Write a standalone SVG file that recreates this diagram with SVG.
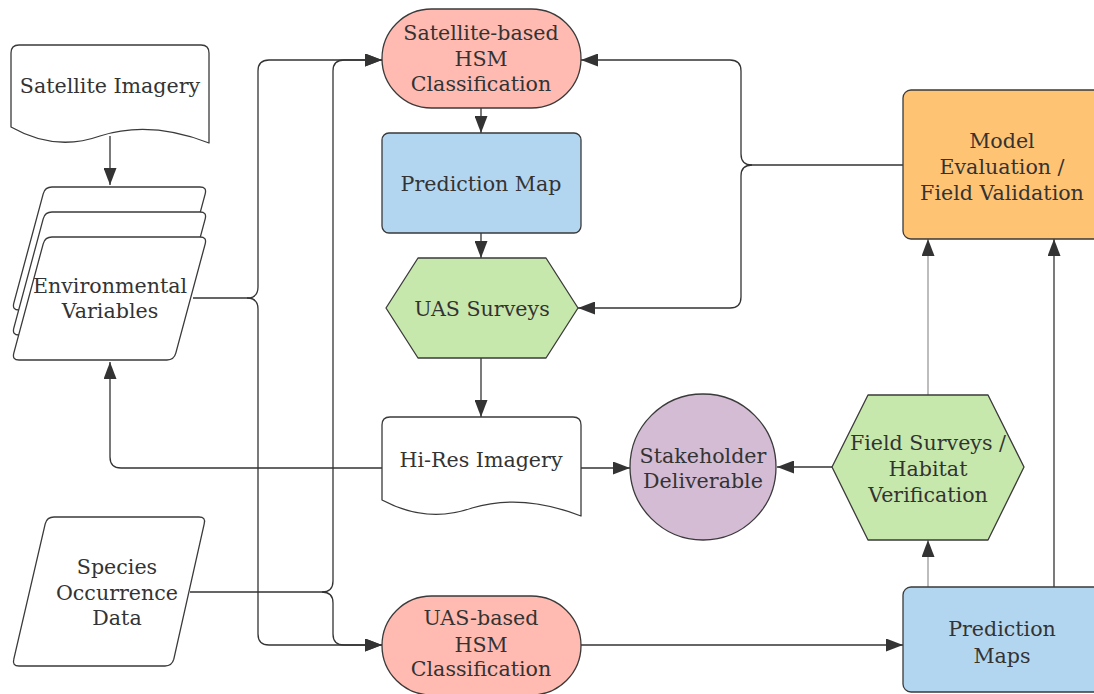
<svg xmlns="http://www.w3.org/2000/svg" width="1094" height="694" viewBox="0 0 1094 694">
<style>
.sh{stroke:#3a3a3a;stroke-width:1.3;stroke-linejoin:round}
.t{font-family:"DejaVu Serif","Liberation Serif",serif;font-size:20.6px;fill:#333;text-anchor:middle;dominant-baseline:central}
.c{fill:none;stroke:#333;stroke-width:1.3}
.g{fill:none;stroke:#9a9a9a;stroke-width:1.3}
</style>
<defs>
<marker id="ah" markerUnits="userSpaceOnUse" markerWidth="18" markerHeight="13" refX="17" refY="6.5" orient="auto">
<path d="M0,0 L17,6.5 L0,13 Z" fill="#333"/>
</marker>
</defs>
<rect width="1094" height="694" fill="#fff"/>

<g id="connectors">
<path class="c" d="M110,136 L110,185" marker-end="url(#ah)"/>
<path class="c" d="M193,298 L247,298 Q258,298 258,287 L258,71 Q258,60 269,60 L382,60" marker-end="url(#ah)"/>
<path class="c" d="M247,298 Q258,298 258,309 L258,634 Q258,645 269,645 L382,645" marker-end="url(#ah)"/>
<path class="c" d="M190,592 L322,592 Q333,592 333,581 L333,71 Q333,60 344,60 L382,60" marker-end="url(#ah)"/>
<path class="c" d="M322,592 Q333,592 333,603 L333,634 Q333,645 344,645 L382,645" marker-end="url(#ah)"/>
<path class="c" d="M481,108 L481,133" marker-end="url(#ah)"/>
<path class="c" d="M481,233 L481,258" marker-end="url(#ah)"/>
<path class="c" d="M481,358 L481,417" marker-end="url(#ah)"/>
<path class="c" d="M382,468 L121,468 Q110,468 110,457 L110,362" marker-end="url(#ah)"/>
<path class="c" d="M581,468 L630,468" marker-end="url(#ah)"/>
<path class="c" d="M903,165 L752,165 Q741,165 741,154 L741,71 Q741,60 730,60 L581,60" marker-end="url(#ah)"/>
<path class="c" d="M752,165 Q741,165 741,176 L741,297 Q741,308 730,308 L578,308" marker-end="url(#ah)"/>
<path class="c" d="M832,467 L777,467" marker-end="url(#ah)"/>
<path class="g" d="M928,587 L928,540" marker-end="url(#ah)"/>
<path class="g" d="M928,395 L928,239" marker-end="url(#ah)"/>
<path class="c" d="M1054,587 L1054,239" marker-end="url(#ah)"/>
<path class="c" d="M581,645 L903,645" marker-end="url(#ah)"/>
</g>

<g id="satellite-imagery">
<path class="sh" fill="#fff" d="M11,127 L11,53 Q11,45 19,45 L201,45 Q209,45 209,53 L209,143 Q150,120 100,136 Q55,152 11,127 Z"/>
<text class="t" x="110" y="86">Satellite Imagery</text>
</g>

<g id="environmental-variables">
<path class="sh" fill="#fff" d="M52,187 L200,187 Q207,187 205.2,193.8 L175.8,303.2 Q174,310 167,310 L19,310 Q12,310 13.8,303.2 L43.2,193.8 Q45,187 52,187 Z"/>
<path class="sh" fill="#fff" d="M52,212 L200,212 Q207,212 205.2,218.8 L175.8,328.2 Q174,335 167,335 L19,335 Q12,335 13.8,328.2 L43.2,218.8 Q45,212 52,212 Z"/>
<path class="sh" fill="#fff" d="M52,237 L200,237 Q207,237 205.2,243.8 L175.8,353.2 Q174,360 167,360 L19,360 Q12,360 13.8,353.2 L43.2,243.8 Q45,237 52,237 Z"/>
<text class="t" x="110" y="286">Environmental</text>
<text class="t" x="110" y="311">Variables</text>
</g>

<g id="species-occurrence-data">
<path class="sh" fill="#fff" d="M54,517 L199,517 Q206,517 204.2,523.8 L173.8,659.2 Q172,666 165,666 L19,666 Q12,666 13.8,659.2 L45.2,523.8 Q47,517 54,517 Z"/>
<text class="t" x="117" y="567">Species</text>
<text class="t" x="117" y="593">Occurrence</text>
<text class="t" x="117" y="618">Data</text>
</g>

<g id="satellite-hsm">
<rect class="sh" fill="#FFBBB1" x="382" y="9" width="199" height="99" rx="49.5"/>
<text class="t" x="481" y="33">Satellite-based</text>
<text class="t" x="481" y="59">HSM</text>
<text class="t" x="481" y="84">Classification</text>
</g>

<g id="prediction-map">
<rect class="sh" fill="#B3D6F0" x="382" y="133" width="199" height="100" rx="7"/>
<text class="t" x="481" y="184">Prediction Map</text>
</g>

<g id="uas-surveys">
<path class="sh" fill="#C7E8AC" d="M386,308 L418,258 L546,258 L578,308 L546,358 L418,358 Z"/>
<text class="t" x="482" y="309">UAS Surveys</text>
</g>

<g id="hi-res-imagery">
<path class="sh" fill="#fff" d="M382,500 L382,425 Q382,417 390,417 L573,417 Q581,417 581,425 L581,516 Q522,493 472,508 Q427,524 382,500 Z"/>
<text class="t" x="481" y="460">Hi-Res Imagery</text>
</g>

<g id="stakeholder-deliverable">
<circle class="sh" fill="#D3BCD4" cx="703" cy="467" r="73"/>
<text class="t" x="703" y="456">Stakeholder</text>
<text class="t" x="703" y="481">Deliverable</text>
</g>

<g id="field-surveys">
<path class="sh" fill="#C7E8AC" d="M832,467 L868,395 L988,395 L1024,467 L988,540 L868,540 Z"/>
<text class="t" x="928" y="443">Field Surveys /</text>
<text class="t" x="928" y="469">Habitat</text>
<text class="t" x="928" y="495">Verification</text>
</g>

<g id="uas-hsm">
<rect class="sh" fill="#FFBBB1" x="382" y="596" width="199" height="99" rx="49.5"/>
<text class="t" x="481" y="618">UAS-based</text>
<text class="t" x="481" y="645">HSM</text>
<text class="t" x="481" y="669">Classification</text>
</g>

<g id="model-evaluation">
<rect class="sh" fill="#FFC374" x="903" y="90" width="199" height="149" rx="8"/>
<text class="t" x="1002" y="141">Model</text>
<text class="t" x="1002" y="167">Evaluation /</text>
<text class="t" x="1002" y="193">Field Validation</text>
</g>

<g id="prediction-maps">
<rect class="sh" fill="#B3D6F0" x="903" y="587" width="199" height="105" rx="8"/>
<text class="t" x="1002" y="629">Prediction</text>
<text class="t" x="1002" y="656">Maps</text>
</g>
</svg>
